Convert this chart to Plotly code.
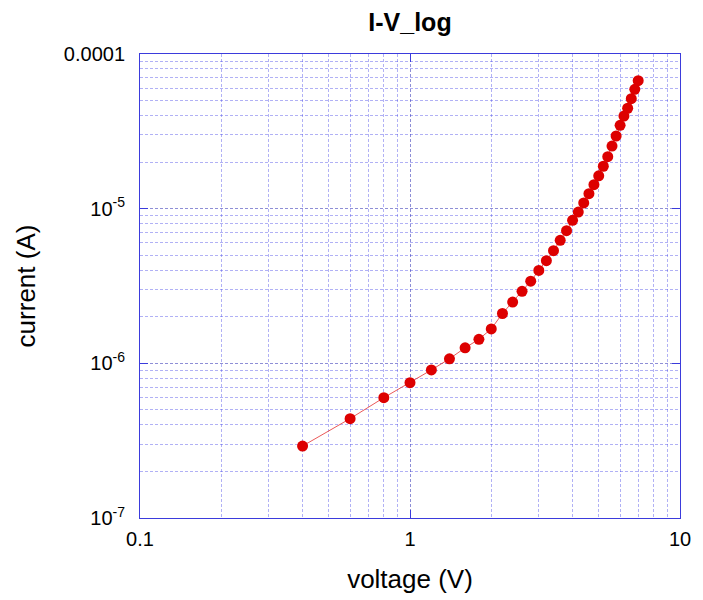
import plotly.graph_objects as go

voltage = [0.4, 0.6, 0.8, 1.0, 1.2, 1.4, 1.6, 1.8, 2.0, 2.2, 2.4, 2.6, 2.8, 3.0,
           3.2, 3.4, 3.6, 3.8, 4.0, 4.2, 4.4, 4.6, 4.8, 5.0, 5.2, 5.4, 5.6, 5.8,
           6.0, 6.2, 6.4, 6.6, 6.8, 7.0]
current = [2.92e-7, 4.39e-7, 6.0e-7, 7.5e-7, 9.06e-7, 1.07e-6, 1.26e-6, 1.43e-6,
           1.67e-6, 2.10e-6, 2.49e-6, 2.92e-6, 3.40e-6, 3.99e-6, 4.61e-6, 5.35e-6,
           6.24e-6, 7.21e-6, 8.41e-6, 9.51e-6, 1.089e-5, 1.25e-5, 1.43e-5, 1.63e-5,
           1.88e-5, 2.17e-5, 2.54e-5, 2.95e-5, 3.46e-5, 3.97e-5, 4.46e-5, 5.14e-5,
           5.91e-5, 6.72e-5]

x_major = [0.1, 1, 10]
x_major_text = ["0.1", "1", "10"]
y_major = [1e-7, 1e-6, 1e-5, 1e-4]
y_major_text = ["10<sup>-7</sup>", "10<sup>-6</sup>", "10<sup>-5</sup>", "0.0001"]

x_minor = [m * d for d in [0.1, 1] for m in range(2, 10)]
y_minor = [m * d for d in [1e-7, 1e-6, 1e-5] for m in range(2, 10)]

FONT = "Liberation Sans, Arial, sans-serif"
GRID = "rgba(70,70,230,0.42)"
GRID_MAJOR = "rgba(50,50,180,0.55)"
AXIS = "#3b3bdc"

fig = go.Figure()
fig.add_trace(go.Scatter(
    x=voltage, y=current, mode="lines+markers",
    line=dict(color="rgba(230,60,60,0.85)", width=1),
    marker=dict(color="#dd0000", size=11, line=dict(width=0)),
    showlegend=False,
))

axis_common = dict(
    showline=True, linecolor=AXIS, linewidth=1, mirror="allticks",
    ticks="inside", ticklen=8, tickcolor=AXIS, tickwidth=1,
    showgrid=True, gridcolor=GRID_MAJOR, gridwidth=1, griddash="3px,2px",
    zeroline=False,
    tickfont=dict(family=FONT, size=20, color="#000"),
)

fig.update_xaxes(
    type="log", range=[-1, 1],
    tickmode="array", tickvals=x_major, ticktext=x_major_text,
    ticklabelstandoff=3,
    minor=dict(tickmode="array", tickvals=x_minor, showgrid=True,
               gridcolor=GRID, griddash="3px,2px", gridwidth=1, ticks=""),
    title=dict(text="voltage (V)", font=dict(family=FONT, size=26, color="#000"), standoff=20),
    **axis_common,
)
fig.update_yaxes(
    type="log", range=[-7, -4],
    tickmode="array", tickvals=y_major, ticktext=y_major_text,
    ticklabelstandoff=10,
    minor=dict(tickmode="array", tickvals=y_minor, showgrid=True,
               gridcolor=GRID, griddash="3px,2px", gridwidth=1, ticks=""),
    title=dict(text="current (A)", font=dict(family=FONT, size=26, color="#000"), standoff=20),
    **axis_common,
)

fig.update_layout(
    width=703, height=600,
    margin=dict(l=132, r=31, t=46, b=90),
    paper_bgcolor="white", plot_bgcolor="white",
    title=dict(text="<b>I-V_log</b>", x=0.5, xref="paper", xanchor="center",
               y=1 - 14 / 600, yref="container", yanchor="middle",
               font=dict(family=FONT, size=25, color="#000")),
)

fig.write_html("out.html")
